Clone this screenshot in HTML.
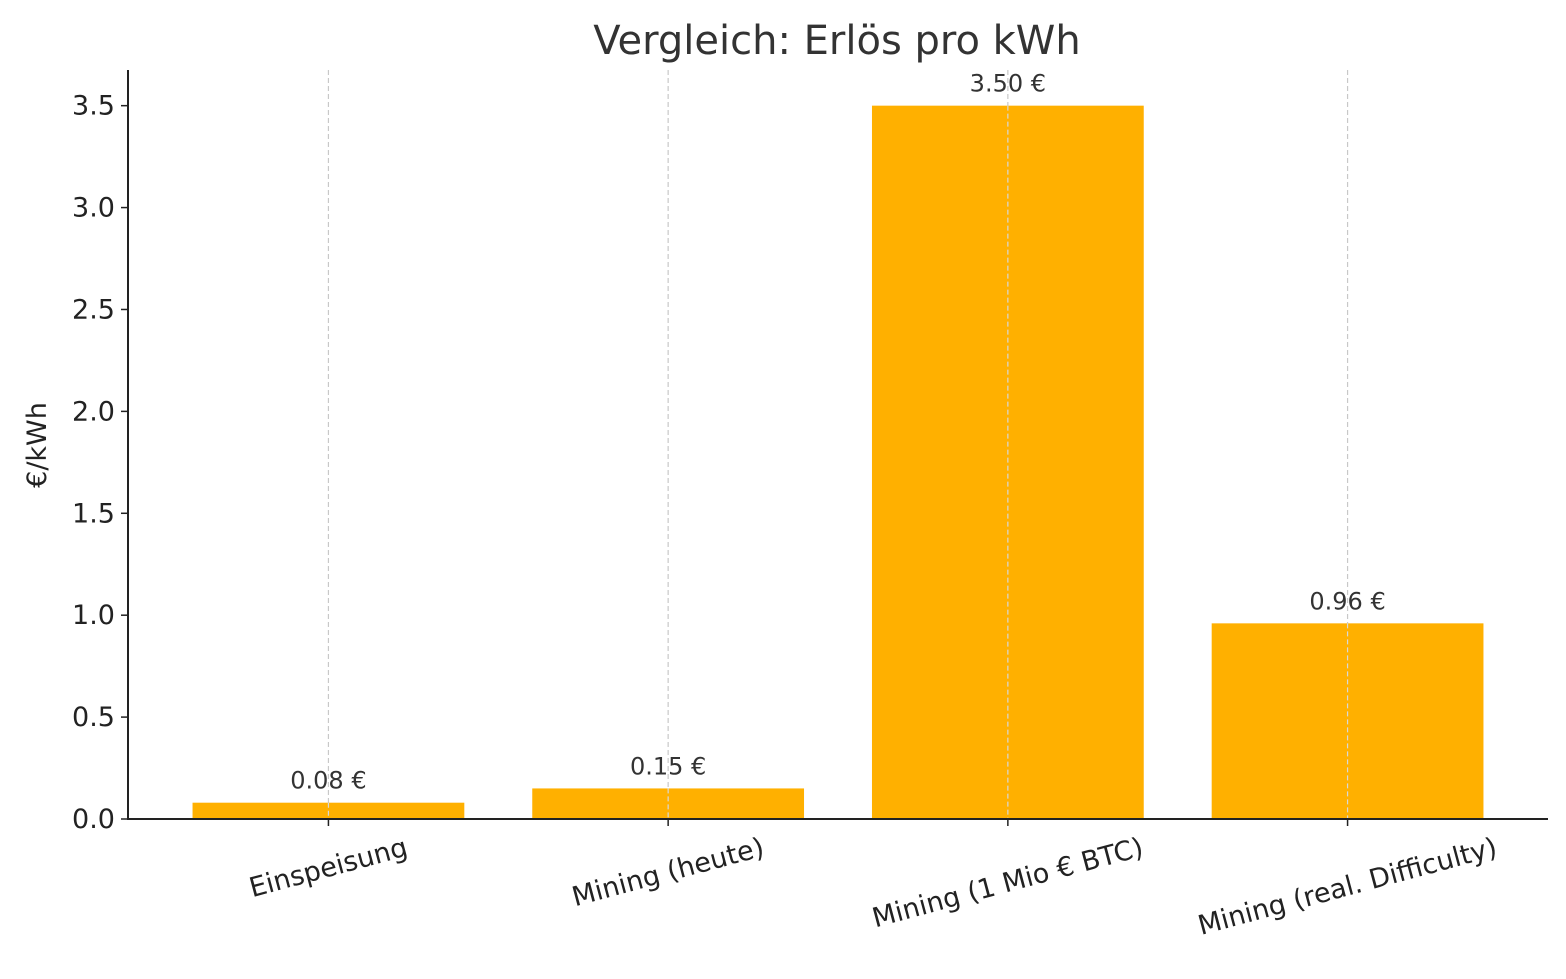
<!DOCTYPE html>
<html><head><meta charset="utf-8"><style>
html,body{margin:0;padding:0;background:#fff;}
svg{display:block;font-family:"DejaVu Sans","Liberation Sans",sans-serif;}
</style></head><body>
<svg id="chart" width="1566" height="979">
<text x="837" y="54" font-size="40" fill="#333" text-anchor="middle">Vergleich: Erlös pro kWh</text>
<text transform="translate(46,445) rotate(-90)" font-size="27" fill="#222" text-anchor="middle">€/kWh</text>
<g id="grid"></g><g id="bars"></g><g id="labels"></g><g id="axes"></g>
</svg>
<script>
const categories=["Einspeisung","Mining (heute)","Mining (1 Mio € BTC)","Mining (real. Difficulty)"];
const values=[0.08,0.15,3.50,0.96];
const valueLabels=["0.08 €","0.15 €","3.50 €","0.96 €"];
const yTicks=[0,0.5,1,1.5,2,2.5,3,3.5];
const yTickLabels=["0.0","0.5","1.0","1.5","2.0","2.5","3.0","3.5"];
const L=128,R=1548,T=70,B=819;
const NS="http://www.w3.org/2000/svg";
const n=categories.length;
const xmin=-0.4-0.05*(n-0.2), xmax=n-1+0.4+0.05*(n-0.2);
const x=v=>L+(v-xmin)/(xmax-xmin)*(R-L);
const ymaxv=Math.max(...values)*1.05;
const y=v=>B-v/ymaxv*(B-T);
function mk(tag,attrs,parent){const e=document.createElementNS(NS,tag);for(const k in attrs)e.setAttribute(k,attrs[k]);document.getElementById(parent).appendChild(e);return e;}
for(let i=0;i<n;i++){
 const g=mk("line",{x1:x(i),x2:x(i),y1:T,y2:B,stroke:"#c8c8c8","stroke-width":1.2,"stroke-dasharray":"5,3"},"grid");
 
 
}
for(let i=0;i<n;i++){
 const w=(x(0.4)-x(-0.4));
 const r=mk("rect",{x:x(i)-w/2,y:y(values[i]),width:w,height:B-y(values[i]),fill:"#ffb000"},"bars");
 
 
 const t=mk("text",{x:x(i),y:y(values[i])-14,"font-size":24,fill:"#333","text-anchor":"middle"},"labels");
 t.textContent=valueLabels[i];
 
 
 // redraw grid on top of bar (matplotlib grid overlays)
 const g2=mk("line",{x1:x(i),x2:x(i),y1:y(values[i]),y2:B,stroke:"#d8d8d8","stroke-width":1.2,"stroke-dasharray":"5,3"},"labels");
 
 
}
const ax1=mk("line",{x1:L,x2:L,y1:T,y2:B+1,stroke:"#222","stroke-width":2},"axes");


const ax2=mk("line",{x1:L-1,x2:R,y1:B,y2:B,stroke:"#222","stroke-width":2},"axes");


for(let i=0;i<yTicks.length;i++){
 const tk=mk("line",{x1:L-7,x2:L,y1:y(yTicks[i]),y2:y(yTicks[i]),stroke:"#222","stroke-width":1.5},"axes");
 
 
 const t=mk("text",{x:L-13,y:y(yTicks[i])+9,"font-size":27,fill:"#222","text-anchor":"end"},"axes");
 t.textContent=yTickLabels[i];
 
 
}
for(let i=0;i<n;i++){
 const tk=mk("line",{x1:x(i),x2:x(i),y1:B,y2:B+7,stroke:"#222","stroke-width":1.5},"axes");
 
 
 const t=mk("text",{x:0,y:0,"font-size":27,fill:"#222","text-anchor":"middle","dominant-baseline":"central"},"axes");
 t.textContent=categories[i];
 
 
 const w=t.getComputedTextLength(),h=27;
 const a=15*Math.PI/180;
 const cy=B+15+(w*Math.sin(a)+h*Math.cos(a))/2;
 t.setAttribute("transform","translate("+x(i)+","+cy+") rotate(-15)");
}
</script>
</body></html>
